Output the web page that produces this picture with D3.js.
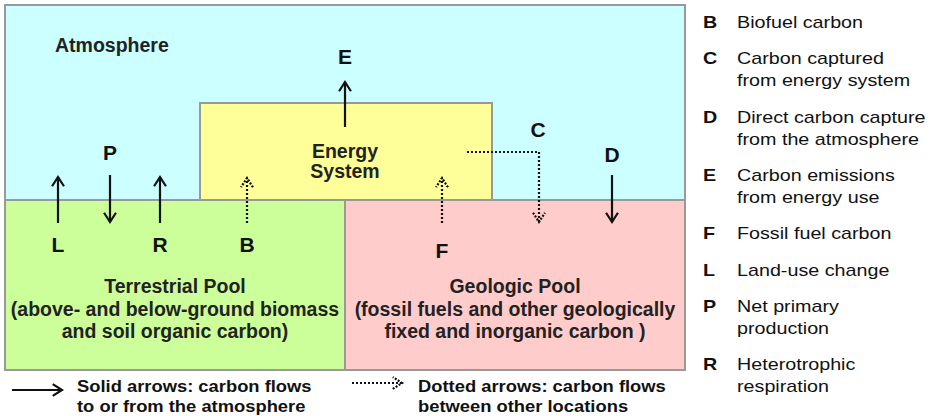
<!DOCTYPE html>
<html>
<head>
<meta charset="utf-8">
<script src="https://cdn.jsdelivr.net/npm/d3@7/dist/d3.min.js"></script>
<style>
  body { margin: 0; background: #fff; }
  svg { display: block; font-family: Arial, "Liberation Sans", sans-serif; }
</style>
</head>
<body>
<svg id="chart"></svg>
<script>
// carbon pools and the flows between them
var poolIds = ["atm", "energy", "terr", "geo"];
var poolTitles = ["Atmosphere", "Energy\nSystem", "Terrestrial Pool", "Geologic Pool"];
var poolNotes = [
  [],
  [],
  ["(above- and below-ground biomass", "and soil organic carbon)"],
  ["(fossil fuels and other geologically", "fixed and inorganic carbon )"]
];
var poolColors = ["#ccffff", "#ffff99", "#ccff99", "#ffcccc"];

var flowLetters = ["L", "P", "R", "B", "E", "C", "D", "F"];
var flowKinds = ["solid", "solid", "solid", "dotted", "solid", "dotted", "solid", "dotted"];

var legendLetters = ["B", "C", "D", "E", "F", "L", "P", "R"];
var legendLines = [
  ["Biofuel carbon"],
  ["Carbon captured", "from energy system"],
  ["Direct carbon capture", "from the atmosphere"],
  ["Carbon emissions", "from energy use"],
  ["Fossil fuel carbon"],
  ["Land-use change"],
  ["Net primary", "production"],
  ["Heterotrophic", "respiration"]
];
var keyKinds = ["solid", "dotted"];
var keyLines = [
  ["Solid arrows: carbon flows", "to or from the atmosphere"],
  ["Dotted arrows: carbon flows", "between other locations"]
];

// layout (pixel space of the picture)
var width = 935, height = 416;
var boxes = {
  atm:    [5, 5, 685, 200],
  energy: [200, 103, 492, 200],
  terr:   [5, 200, 345, 370],
  geo:    [345, 200, 685, 370]
};
var titleAt = {
  atm:    {x: 55, y: 52, anchor: "start"},
  energy: {x: 345, y: 158, anchor: "middle"},
  terr:   {x: 175, y: 293, anchor: "middle"},
  geo:    {x: 515, y: 293, anchor: "middle"}
};
// each flow: path points (tail -> tip) and label spot
var flowPaths = {
  L: {pts: [[58, 223], [58, 177]], lab: [58, 252]},
  P: {pts: [[110, 175], [110, 222]], lab: [110, 160]},
  R: {pts: [[160, 223], [160, 177]], lab: [160, 252]},
  B: {pts: [[247, 223], [247, 178]], lab: [247, 252]},
  E: {pts: [[345, 127], [345, 82]], lab: [345, 64]},
  C: {pts: [[467, 152], [539, 152], [539, 222]], lab: [538, 137]},
  D: {pts: [[612, 175], [612, 222]], lab: [612, 162]},
  F: {pts: [[442, 223], [442, 178]], lab: [442, 258]}
};

var svg = d3.select("#chart").attr("width", width).attr("height", height);
var line = d3.line();

function drawArrow(g, pts, kind) {
  var dash = kind === "dotted" ? "2,2" : null;
  g.append("path")
    .attr("d", line(pts))
    .attr("fill", "none")
    .attr("stroke", "#111")
    .attr("stroke-width", 2.2)
    .attr("stroke-dasharray", dash);
  var a = pts[pts.length - 2], b = pts[pts.length - 1];
  var ang = Math.atan2(b[1] - a[1], b[0] - a[0]);
  var len = 11, spread = Math.PI / 5.5;
  var head = [
    [b[0] - len * Math.cos(ang - spread), b[1] - len * Math.sin(ang - spread)],
    b,
    [b[0] - len * Math.cos(ang + spread), b[1] - len * Math.sin(ang + spread)]
  ];
  g.append("path")
    .attr("d", line(head))
    .attr("fill", "none")
    .attr("stroke", "#111")
    .attr("stroke-width", 2.2)
    .attr("stroke-linejoin", "miter")
    .attr("stroke-dasharray", kind === "dotted" ? "2,1.5" : null);
}

// pools
var pools = svg.append("g").selectAll("g")
  .data(poolIds)
  .enter().append("g");

pools.append("rect")
  .attr("x", function(d) { return boxes[d][0]; })
  .attr("y", function(d) { return boxes[d][1]; })
  .attr("width", function(d) { return boxes[d][2] - boxes[d][0]; })
  .attr("height", function(d) { return boxes[d][3] - boxes[d][1]; })
  .attr("fill", function(d, i) { return poolColors[i]; })
  .attr("stroke", "#999")
  .attr("stroke-width", 2);

pools.append("text")
  .attr("text-anchor", function(d) { return titleAt[d].anchor; })
  .attr("font-size", 19.5)
  .attr("font-weight", "bold")
  .attr("fill", "#222")
  .selectAll("tspan")
  .data(function(d, i) { return poolTitles[i].split("\n").concat(poolNotes[i]); })
  .enter().append("tspan")
  .attr("x", function() { return titleAt[d3.select(this.parentNode).datum()].x; })
  .attr("y", function(t, j) {
    var p = d3.select(this.parentNode).datum();
    return titleAt[p].y + j * (p === "energy" ? 20 : 22.5);
  })
  .text(function(t) { return t; });

// flows
var flows = svg.append("g").selectAll("g")
  .data(flowLetters)
  .enter().append("g");

flows.each(function(d, i) { drawArrow(d3.select(this), flowPaths[d].pts, flowKinds[i]); });

flows.append("text")
  .attr("x", function(d) { return flowPaths[d].lab[0]; })
  .attr("y", function(d) { return flowPaths[d].lab[1]; })
  .attr("text-anchor", "middle")
  .attr("font-size", 21)
  .attr("font-weight", "bold")
  .attr("fill", "#111")
  .text(function(d) { return d; });

// arrow-style key at the bottom
var keyX = [12, 352], keyTextX = [77, 418], keyY = [390, 383];
var keys = svg.append("g").selectAll("g")
  .data(keyKinds)
  .enter().append("g");

keys.each(function(d, i) {
  drawArrow(d3.select(this), [[keyX[i], keyY[i]], [keyX[i] + 50, keyY[i]]], d);
});

keys.append("text")
  .attr("font-size", 17)
  .attr("font-weight", "bold")
  .attr("fill", "#111")
  .attr("transform", function(d, i) { return "translate(" + keyTextX[i] + ",0) scale(1.08,1)"; })
  .selectAll("tspan")
  .data(function(d, i) { return keyLines[i]; })
  .enter().append("tspan")
  .attr("x", 0)
  .attr("y", function(t, j) { return 392 + j * 20.5; })
  .text(function(t) { return t; });

// letter legend on the right
var legY = [];
var yy = 28;
legendLines.forEach(function(ls) { legY.push(yy); yy += (ls.length - 1) * 22 + 36.3; });

var leg = svg.append("g").selectAll("g")
  .data(legendLetters)
  .enter().append("g")
  .attr("transform", function(d, i) { return "translate(0," + legY[i] + ")"; });

leg.append("text")
  .attr("transform", "translate(703,0) scale(1.16,1)")
  .attr("font-size", 17)
  .attr("font-weight", "bold")
  .attr("fill", "#111")
  .text(function(d) { return d; });

leg.append("text")
  .attr("transform", "translate(737,0) scale(1.16,1)")
  .attr("font-size", 17)
  .attr("fill", "#111")
  .selectAll("tspan")
  .data(function(d, i) { return legendLines[i]; })
  .enter().append("tspan")
  .attr("x", 0)
  .attr("y", function(t, j) { return j * 22; })
  .text(function(t) { return t; });
</script>
</body>
</html>
